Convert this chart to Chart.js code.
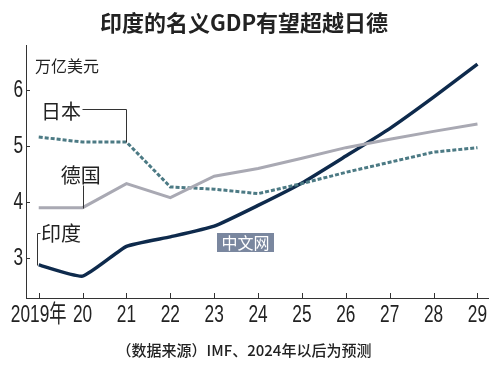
<!DOCTYPE html>
<html>
<head>
<meta charset="utf-8">
<script src="https://cdn.jsdelivr.net/npm/chart.js@4.4.1/dist/chart.umd.min.js"></script>
<style>
  html, body { margin: 0; padding: 0; background: #fff; }
  #wrap { width: 500px; height: 367px; }
</style>
</head>
<body>
<div id="wrap"><canvas id="gdp" width="500" height="367"></canvas></div>
<script>
// ── 印度的名义GDP有望超越日德 ────────────────────────────────────────────────
// Nominal GDP, trillion USD (IMF; 2024 onward are forecasts).

const years      = [2019, 2020, 2021, 2022, 2023, 2024, 2025, 2026, 2027, 2028, 2029];
const yearLabels = ['2019年', '20', '21', '22', '23', '24', '25', '26', '27', '28', '29'];
const yTicks     = [3, 4, 5, 6];

const india   = [2.88, 2.68, 3.21, 3.38, 3.57, 3.94, 4.34, 4.82, 5.31, 5.87, 6.46];
const japan   = [5.16, 5.07, 5.07, 4.27, 4.23, 4.15, 4.33, 4.53, 4.71, 4.89, 4.97];
const germany = [3.90, 3.90, 4.33, 4.08, 4.46, 4.60, 4.78, 4.97, 5.12, 5.26, 5.39];

const TITLE  = '印度的名义GDP有望超越日德';
const SOURCE = '（数据来源）IMF、2024年以后为预测';
const UNIT   = '万亿美元';

const NAVY = '#0e2a4c', TEAL = '#4c7a84', GREY = '#a9a9b3', INK = '#222';
const NUM_FONT = '"Liberation Sans", "Noto Sans CJK SC", sans-serif';
const CJK_FONT = '"Noto Sans CJK SC", "Noto Sans", sans-serif';
const SQUEEZE = 0.72;   // the original uses a condensed face for the axis numbers

const pts = vals => years.map((x, i) => ({ x, y: vals[i] }));

// Series name labels with their leader lines, in data coordinates.
const seriesLabels = [
  { text: '日本', x: 2019.51, y: 5.62, leader: [[2019.99, 5.66], [2021, 5.66], [2021, japan[2]]] },
  { text: '德国', x: 2019.96, y: 4.48, leader: [[2020, 4.30], [2020, germany[1]]] },
  { text: '印度', x: 2019.51, y: 3.45, leader: [[2019.03, 3.45], [2018.96, 3.45], [2018.96, india[0]]] }
];

function squeezedText(ctx, text, px, py) {
  ctx.save();
  ctx.translate(px, py);
  ctx.scale(SQUEEZE, 1);
  ctx.fillText(text, 0, 0);
  ctx.restore();
}

// Inside tick marks, condensed tick labels, unit caption, series labels, watermark box.
const decorPlugin = {
  id: 'decor',
  afterDraw(chart) {
    const { ctx, chartArea: a, scales: { x, y } } = chart;
    ctx.save();
    ctx.strokeStyle = '#333';
    ctx.lineWidth = 1;
    ctx.beginPath();
    years.forEach(v => {
      const px = Math.round(x.getPixelForValue(v)) + 0.5;
      ctx.moveTo(px, a.bottom); ctx.lineTo(px, a.bottom - 5);
    });
    yTicks.forEach(v => {
      const py = Math.round(y.getPixelForValue(v)) + 0.5;
      ctx.moveTo(a.left, py); ctx.lineTo(a.left + 4, py);
    });
    ctx.stroke();

    ctx.fillStyle = INK;
    ctx.textBaseline = 'middle';
    ctx.font = '24px ' + NUM_FONT;
    ctx.textAlign = 'center';
    years.forEach((v, i) => squeezedText(ctx, yearLabels[i], x.getPixelForValue(v), a.bottom + 17));
    ctx.textAlign = 'right';
    yTicks.forEach(v => squeezedText(ctx, String(v), a.left - 3, y.getPixelForValue(v)));

    ctx.textAlign = 'left';
    ctx.font = '16px ' + CJK_FONT;
    ctx.fillText(UNIT, a.left + 9, 66);

    ctx.font = '20px ' + CJK_FONT;
    ctx.textAlign = 'center';
    seriesLabels.forEach(l => {
      ctx.fillText(l.text, x.getPixelForValue(l.x), y.getPixelForValue(l.y));
      ctx.beginPath();
      l.leader.forEach(([lx, ly], i) => {
        const px = Math.round(x.getPixelForValue(lx)) + 0.5;
        const py = Math.round(y.getPixelForValue(ly)) + 0.5;
        if (i === 0) ctx.moveTo(px, py); else ctx.lineTo(px, py);
      });
      ctx.stroke();
    });

    // watermark
    ctx.fillStyle = '#7a879f';
    ctx.fillRect(217, 233, 57, 19);
    ctx.fillStyle = '#fff';
    ctx.font = '16px ' + CJK_FONT;
    ctx.fillText('中文网', 245.5, 243);
    ctx.restore();
  }
};

new Chart(document.getElementById('gdp'), {
  type: 'line',
  data: {
    datasets: [
      { label: '德国', data: pts(germany), borderColor: GREY, borderWidth: 3, pointRadius: 0, tension: 0 },
      { label: '日本', data: pts(japan), borderColor: TEAL, borderWidth: 3, borderDash: [4, 2], pointRadius: 0, tension: 0 },
      { label: '印度', data: pts(india), borderColor: NAVY, borderWidth: 3.5, pointRadius: 0, tension: 0.15 }
    ]
  },
  options: {
    responsive: false,
    animation: false,
    devicePixelRatio: 1,
    layout: { padding: { left: 0, right: 12, top: 0, bottom: 0 } },
    plugins: {
      legend: { display: false },
      tooltip: { enabled: false },
      title: {
        display: true, text: TITLE, color: INK,
        font: { family: CJK_FONT, size: 22, weight: 'bold', lineHeight: 1.2 },
        padding: { top: 9, bottom: 9.6 }
      },
      subtitle: {
        display: true, position: 'bottom', text: SOURCE, color: INK,
        font: { family: CJK_FONT, size: 15, weight: '500', lineHeight: 1.2 },
        padding: { top: 0, bottom: 8 }
      }
    },
    scales: {
      x: {
        type: 'linear', min: 2018.71, max: 2029.24,
        grid: { display: false, drawTicks: false },
        border: { display: true, color: '#333', width: 1 },
        afterBuildTicks: s => { s.ticks = years.map(v => ({ value: v })); },
        afterFit: s => { s.height = 43; },
        ticks: { display: false, autoSkip: false }
      },
      y: {
        min: 2.29, max: 6.8,
        grid: { display: false, drawTicks: false },
        border: { display: true, color: '#333', width: 1 },
        afterBuildTicks: s => { s.ticks = yTicks.map(v => ({ value: v })); },
        afterFit: s => { s.width = 26; },
        ticks: { display: false }
      }
    }
  },
  plugins: [decorPlugin]
});
</script>
</body>
</html>
